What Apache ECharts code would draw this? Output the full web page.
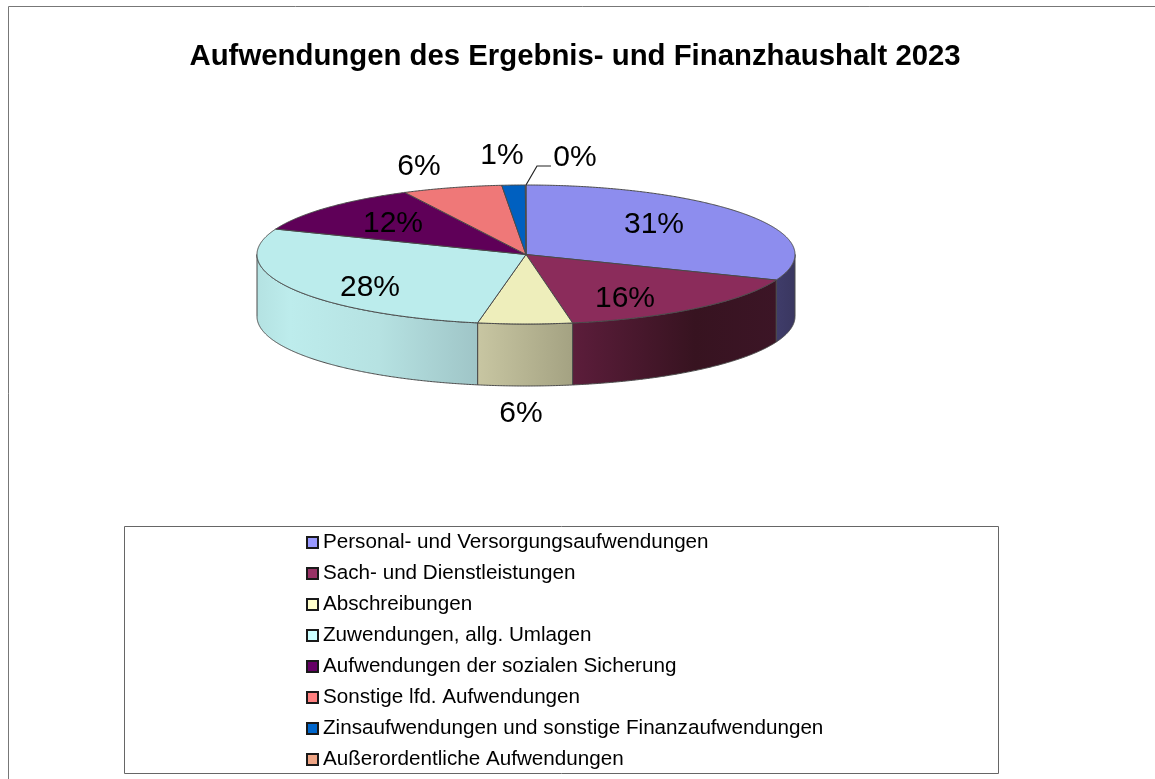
<!DOCTYPE html>
<html>
<head>
<meta charset="utf-8">
<style>html,body{margin:0;padding:0;background:#fff}#c{width:1155px;height:779px}</style>
<script src="https://cdn.jsdelivr.net/npm/echarts@6/dist/echarts.min.js"></script>
</head>
<body>
<div id="c"></div>
<script>
const titleText = 'Aufwendungen des Ergebnis- und Finanzhaushalt 2023';
const categories = [
  'Personal- und Versorgungsaufwendungen',
  'Sach- und Dienstleistungen',
  'Abschreibungen',
  'Zuwendungen, allg. Umlagen',
  'Aufwendungen der sozialen Sicherung',
  'Sonstige lfd. Aufwendungen',
  'Zinsaufwendungen und sonstige Finanzaufwendungen',
  'Außerordentliche Aufwendungen'
];
const shares = [31, 16.25, 5.65, 28.1, 11.6, 6, 1.4, 0.04];
const topColors = ['#8d8dee', '#8b2c5b', '#eeeebb', '#bbecec', '#5f0058', '#ef7878', '#0060c0', '#f0a080'];
const legendColors = ['#9999ff', '#993366', '#ffffcc', '#ccffff', '#660066', '#ff8080', '#0066cc', '#eea585'];
const wallStops = [
  [[0, '#3f3c6a'], [1, '#3a3760']],
  [[0, '#5c1d3b'], [0.6, '#371320'], [1, '#3c1526']],
  [[0, '#c8c6a2'], [1, '#a4a282']],
  [[0, '#b4e2e2'], [0.15, '#bdecec'], [0.55, '#b6e2e2'], [1, '#9fc5c7']],
  [[0, '#333'], [1, '#333']], [[0, '#333'], [1, '#333']], [[0, '#333'], [1, '#333']], [[0, '#333'], [1, '#333']]
];
const labelCenters = [[654, 225], [625, 299], [521, 414], [370, 288], [393, 224], [419, 167], [502, 156], [575, 158]];

const CX = 526, CY = 254.5, RX = 269, RY = 69.5, DEPTH = 62;
const EDGE = '#4a4a4a';
const FONT = '"Liberation Sans", Arial, sans-serif';
const total = shares.reduce((a, b) => a + b, 0);
const toAngle = v => echarts.number.linearMap(v, [0, total], [0, 360]);
const pt = (deg, dy) => {
  const r = deg * Math.PI / 180;
  return [CX + RX * Math.sin(r), CY - RY * Math.cos(r) + (dy || 0)];
};
const arc = (a, b, dy) => {
  const out = [];
  const n = Math.max(2, Math.ceil(Math.abs(b - a) * 3));
  for (let i = 0; i <= n; i++) out.push(pt(a + (b - a) * i / n, dy));
  return out;
};

function renderSlice(i) {
  return function (params, api) {
    const value = api.value(0);
    const start = toAngle(shares.slice(0, i).reduce((a, b) => a + b, 0));
    const end = start + toAngle(value);
    const children = [];
    const wa = Math.max(start, 90), wb = Math.min(end, 270);
    if (wb > wa) {
      const front = arc(wa, wb, 0);
      const back = arc(wb, wa, DEPTH);
      const x0 = Math.min(front[0][0], front[front.length - 1][0]);
      const x1 = Math.max(front[0][0], front[front.length - 1][0]);
      children.push({
        type: 'polygon',
        shape: { points: front.concat(back) },
        style: {
          fill: new echarts.graphic.LinearGradient(x0, 0, x1, 0,
            wallStops[i].map(s => ({ offset: s[0], color: s[1] })), true),
          stroke: EDGE, lineWidth: 1, lineJoin: 'round'
        }
      });
    }
    children.push({
      type: 'polygon',
      shape: { points: [[CX, CY]].concat(arc(start, end, 0)) },
      style: { fill: topColors[i], stroke: EDGE, lineWidth: 1, lineJoin: 'round' }
    });
    children.push({
      type: 'text',
      z2: 10,
      style: {
        x: labelCenters[i][0], y: labelCenters[i][1],
        text: Math.round(value) + '%',
        fill: '#000', font: '30px ' + FONT,
        align: 'center', verticalAlign: 'middle'
      }
    });
    if (value < 0.5) {
      const a = pt(end);
      children.push({
        type: 'polyline',
        shape: { points: [a, [a[0] + 11, a[1] - 19], [a[0] + 25, a[1] - 19]] },
        style: { fill: 'none', stroke: '#222', lineWidth: 1.2 }
      });
    }
    return { type: 'group', children };
  };
}

const chart = echarts.init(document.getElementById('c'), null, { renderer: 'canvas' });
chart.setOption({
  animation: false,
  backgroundColor: '#ffffff',
  title: {
    text: titleText, left: 189.5, top: 42, padding: 0,
    textStyle: { fontFamily: FONT, fontWeight: 'bold', fontSize: 29.35, color: '#000' }
  },
  legend: {
    orient: 'vertical', left: 306, top: 532, height: 400, padding: 0,
    itemWidth: 11, itemHeight: 11, itemGap: 10,
    selectedMode: false,
    textStyle: { fontFamily: FONT, fontSize: 20.65, color: '#000', lineHeight: 20 },
    data: categories.map((name, i) => ({
      name, icon: 'rect',
      itemStyle: { color: legendColors[i], borderColor: '#1a1a1a', borderWidth: 2 }
    }))
  },
  graphic: [
    { type: 'rect', silent: true, shape: { x: 8.5, y: 6.5, width: 1300, height: 1000 }, style: { fill: 'none', stroke: '#777', lineWidth: 1 } },
    { type: 'rect', silent: true, shape: { x: 124.5, y: 526.5, width: 874, height: 247 }, style: { fill: 'none', stroke: '#666', lineWidth: 1 } }
  ],
  series: categories.map((name, i) => ({
    type: 'custom',
    name,
    coordinateSystem: 'none',
    color: legendColors[i],
    data: [[shares[i]]],
    renderItem: renderSlice(i),
    silent: true
  }))
});
</script>
</body>
</html>
